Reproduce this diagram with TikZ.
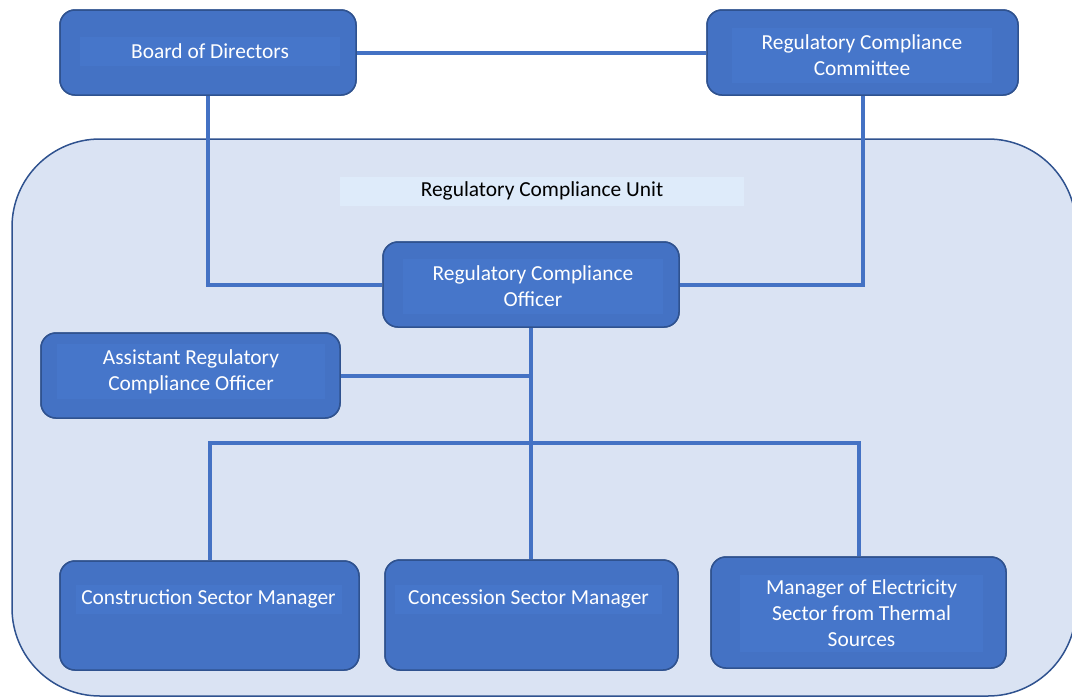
\documentclass[tikz,border=0pt]{standalone}
\usepackage{fontspec}
\setmainfont{Carlito}
\definecolor{boxfill}{HTML}{4472C4}
\definecolor{innerfill}{HTML}{4676CA}
\definecolor{boxline}{HTML}{2F528F}
\definecolor{unitfill}{HTML}{DAE3F3}
\definecolor{titlefill}{HTML}{DEEBFA}
\tikzset{
  orgbox/.style={draw=boxline, line width=1.5pt, fill=boxfill, rounded corners=15pt, inner sep=0pt},
  boxtext/.style={fill=innerfill, text=white, inner sep=0pt, align=center, yshift=-1.5pt, font=\fontsize{21.4}{26}\selectfont},
  link/.style={draw=boxfill, line width=4pt}
}
\begin{document}
\begin{tikzpicture}[x=1pt,y=-1pt]
\useasboundingbox (0,0) rectangle (1072,697);
\begin{scope}
\clip (0,0) rectangle (1072,697);
\draw[draw=boxline, line width=1.5pt, fill=unitfill, rounded corners=88pt] (12,139) rectangle (1076,696);
\end{scope}
\node[fill=titlefill, minimum width=404pt, minimum height=29pt, inner sep=0pt, yshift=-1.5pt, font=\fontsize{21.4}{26}\selectfont] (title) at (542,189.5) {Regulatory Compliance Unit};

% boxes
\node[orgbox, minimum width=296pt, minimum height=85pt] (bod) at (208,52.5) {};
\node[orgbox, minimum width=311pt, minimum height=85pt] (rcc) at (862.5,52.5) {};
\node[orgbox, minimum width=296pt, minimum height=85pt] (rco) at (531,284.5) {};
\node[orgbox, minimum width=299pt, minimum height=85pt] (asst) at (190.5,375.5) {};
\node[orgbox, minimum width=299pt, minimum height=109pt] (cons) at (209.5,615.5) {};
\node[orgbox, minimum width=293pt, minimum height=110pt] (conc) at (531.5,615) {};
\node[orgbox, minimum width=295pt, minimum height=111pt] (mgr) at (858.5,612.5) {};

% connectors
\coordinate (j) at (531,443);
\draw[link] (bod.east) -- (rcc.west);
\draw[link] (bod.south) |- (rco.west);
\draw[link] (rcc.south) |- (rco.east);
\draw[link] (rco.south) -- (rco.south |- conc.north);
\draw[link] (asst.east) -- (asst.east -| rco.south);
\draw[link] (cons.north) |- (j) -| (mgr.north);

% redraw boxes above connectors
\node[orgbox, minimum width=296pt, minimum height=85pt] at (bod) {};
\node[orgbox, minimum width=311pt, minimum height=85pt] at (rcc) {};
\node[orgbox, minimum width=296pt, minimum height=85pt] at (rco) {};
\node[orgbox, minimum width=299pt, minimum height=85pt] at (asst) {};
\node[orgbox, minimum width=299pt, minimum height=109pt] at (cons) {};
\node[orgbox, minimum width=293pt, minimum height=110pt] at (conc) {};
\node[orgbox, minimum width=295pt, minimum height=111pt] at (mgr) {};

% texts
\node[boxtext, minimum width=260pt, minimum height=29pt] (bodt) at (210,50) {Board of Directors};
\node[boxtext, minimum width=260pt, minimum height=55pt] (rcct) at (862,53.5) {Regulatory Compliance\\Committee};
\node[boxtext, minimum width=260pt, minimum height=55pt] (rcot) at (533,285) {Regulatory Compliance\\Officer};
\node[boxtext, minimum width=268pt, minimum height=55pt] (asstt) at (191,370) {Assistant Regulatory\\Compliance Officer};
\node[boxtext, minimum width=266pt, minimum height=29pt] (const) at (208.5,597.5) {Construction Sector Manager};
\node[boxtext, minimum width=267pt, minimum height=29pt] (conct) at (528.5,597.5) {Concession Sector Manager};
\node[boxtext, minimum width=243pt, minimum height=77pt] (mgrt) at (861.5,611.5) {Manager of Electricity\\Sector from Thermal\\Sources};
\end{tikzpicture}
\end{document}
